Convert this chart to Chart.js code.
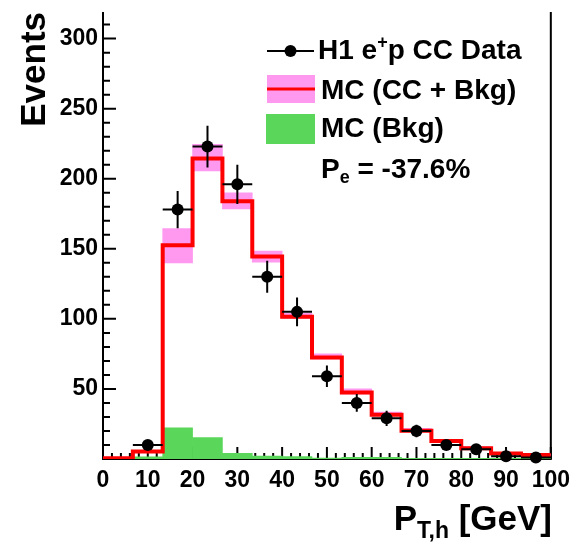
<!DOCTYPE html>
<html lang="en">
<head>
<meta charset="UTF-8">
<title>H1 e+p CC - P_T,h</title>
<script src="https://cdn.jsdelivr.net/npm/chart.js@4"></script>
<style>
  body { margin: 0; background: #fff; }
  canvas { display: block; }
</style>
</head>
<body>
<canvas id="ptChart" width="578" height="548"></canvas>
<script>
// histogram binning in GeV (15 bins over 0..100)
const binEdges = [0, 6.667, 13.333, 20, 26.667, 33.333, 40, 46.667, 53.333, 60, 66.667, 73.333, 80, 86.667, 93.333, 100];

// MC prediction (CC + Bkg) per bin, with its uncertainty band
const mcTotal    = [0.5, 5.3, 152.5, 214.5, 184, 144.5, 101.5, 72.5, 47.5, 31.5, 20.2, 12.8, 7.6, 4.0, 2.9];
const mcBandLow  = [0.3, 4.6, 140, 205.5, 178.5, 140.5, 100.5, 71.5, 46.5, 30.8, 19.6, 12.3, 7.2, 3.6, 2.5];
const mcBandHigh = [0.7, 6.0, 164.5, 224.5, 190, 148.3, 104, 75, 50, 33.5, 21.8, 14, 8.6, 4.8, 3.5];

// MC background only
const mcBkg = [0.3, 1.5, 22.3, 15.2, 4.0, 2.1, 1.7, 0.6, 1.2, 1.2, 0.4, 0.4, 0.4, 0.4, 0.4];

// data, one entry per bin starting at the second bin
const dataCounts = [10, 178, 223, 196, 130, 105, 59, 40, 29, 20, 10, 7, 2, 1];
const dataErrors = [3.2, 13.3, 14.9, 14.0, 11.4, 10.2, 7.7, 6.3, 5.4, 4.5, 3.2, 2.6, 1.4, 1.0];

const FONT = '"Liberation Sans", Arial, Helvetica, sans-serif';
const PINK = 'rgb(255,153,240)';
const GREEN = 'rgb(90,214,90)';
const RED = 'rgb(255,0,0)';

const centres = binEdges.slice(0, -1).map((e, i) => (e + binEdges[i + 1]) / 2);

const bandData = centres.map((c, i) => ({ x: c, y: [mcBandLow[i], mcBandHigh[i]] }));
const bkgData = centres.map((c, i) => ({ x: c, y: mcBkg[i] }));
// step outline: each bin value held from its low edge up to the next edge
const mcLine = binEdges.map((e, i) => ({ x: e, y: mcTotal[Math.min(i, mcTotal.length - 1)] }));
const dataPts = dataCounts.map((v, i) => ({ x: centres[i + 1], y: v, err: dataErrors[i] }));

// draws a run of text pieces, each with its own size and vertical shift
function richText(ctx, x, y, parts) {
  let cx = x;
  parts.forEach(p => {
    ctx.font = 'bold ' + p.size + 'px ' + FONT;
    ctx.fillText(p.t, cx, y + (p.dy || 0));
    cx += ctx.measureText(p.t).width;
  });
  return cx - x;
}
function richWidth(ctx, parts) {
  let w = 0;
  parts.forEach(p => {
    ctx.font = 'bold ' + p.size + 'px ' + FONT;
    w += ctx.measureText(p.t).width;
  });
  return w;
}

const framePlugin = {
  id: 'frame',
  beforeDatasetsDraw(chart) {
    const { ctx, chartArea: a, scales: { x, y } } = chart;
    ctx.save();
    ctx.strokeStyle = '#000';
    ctx.lineWidth = 2;
    ctx.beginPath();
    ctx.moveTo(a.left, a.top); ctx.lineTo(a.left, a.bottom); ctx.lineTo(a.right, a.bottom); ctx.lineTo(a.right, a.top);
    ctx.stroke();
    ctx.beginPath();
    for (let v = 0; v <= 310; v += 10) {
      const py = y.getPixelForValue(v);
      ctx.moveTo(a.left, py); ctx.lineTo(a.left + (v % 50 === 0 ? 13 : 7), py);
    }
    for (let v = 0; v <= 100; v += 2) {
      const px = x.getPixelForValue(v);
      ctx.moveTo(px, a.bottom); ctx.lineTo(px, a.bottom - (v % 10 === 0 ? 12 : 6));
    }
    ctx.stroke();
    ctx.restore();
  },
  beforeDatasetDraw(chart, args) {
    if (args.index !== 0) return;
    const { ctx, scales: { x, y } } = chart;
    ctx.save();
    ctx.strokeStyle = '#000';
    ctx.lineWidth = 2;
    ctx.beginPath();
    dataPts.forEach((p, i) => {
      const lo = x.getPixelForValue(binEdges[i + 1]);
      const hi = x.getPixelForValue(binEdges[i + 2]);
      const py = y.getPixelForValue(p.y);
      const px = x.getPixelForValue(p.x);
      ctx.moveTo(lo, py); ctx.lineTo(hi, py);
      ctx.moveTo(px, y.getPixelForValue(p.y - p.err)); ctx.lineTo(px, y.getPixelForValue(p.y + p.err));
    });
    ctx.stroke();
    ctx.restore();
  },
  afterDraw(chart) {
    const { ctx } = chart;
    ctx.save();
    ctx.fillStyle = '#000';
    ctx.textBaseline = 'alphabetic';

    // legend symbols
    ctx.strokeStyle = '#000';
    ctx.lineWidth = 2;
    ctx.beginPath(); ctx.moveTo(267, 51); ctx.lineTo(314, 51); ctx.stroke();
    ctx.beginPath(); ctx.arc(290.5, 51, 6, 0, Math.PI * 2); ctx.fill();
    ctx.fillStyle = PINK; ctx.fillRect(267, 75, 48, 28);
    ctx.fillStyle = RED; ctx.fillRect(267, 87.5, 48, 3);
    ctx.fillStyle = GREEN; ctx.fillRect(266, 114, 49, 30);

    // legend text
    ctx.fillStyle = '#000';
    const ls = 28;
    richText(ctx, 318, 59, [{ t: 'H1 e', size: ls }, { t: '+', size: 18, dy: -11 }, { t: 'p CC Data', size: ls }]);
    richText(ctx, 321, 99, [{ t: 'MC (CC + Bkg)', size: ls }]);
    richText(ctx, 321, 137, [{ t: 'MC (Bkg)', size: ls }]);
    richText(ctx, 321, 178, [{ t: 'P', size: ls }, { t: 'e', size: 18, dy: 5 }, { t: ' = -37.6%', size: ls }]);

    // x axis title, right aligned to the frame
    const xt = [{ t: 'P', size: 35 }, { t: 'T,h', size: 23, dy: 8 }, { t: ' [GeV]', size: 35 }];
    richText(ctx, 552 - richWidth(ctx, xt), 530, xt);

    // y axis title
    ctx.translate(45, 12);
    ctx.rotate(-Math.PI / 2);
    ctx.textAlign = 'right';
    ctx.font = 'bold 35px ' + FONT;
    ctx.fillText('Events', 0, 0);
    ctx.restore();
  }
};

const tickFont = { family: FONT, size: 23, weight: 'bold' };

new Chart(document.getElementById('ptChart'), {
  type: 'bar',
  data: {
    datasets: [
      {
        type: 'line', data: dataPts, showLine: false, order: 0, clip: false,
        pointRadius: 6, pointHoverRadius: 6, pointBackgroundColor: '#000', pointBorderColor: '#000', pointBorderWidth: 0
      },
      {
        type: 'line', data: mcLine, stepped: 'before', order: 1,
        borderColor: RED, borderWidth: 4, pointRadius: 0, fill: false
      },
      {
        data: bkgData, order: 2, grouped: false, backgroundColor: GREEN, borderWidth: 0,
        barPercentage: 1, categoryPercentage: 1
      },
      {
        data: bandData, order: 3, grouped: false, backgroundColor: PINK, borderWidth: 0,
        barPercentage: 1, categoryPercentage: 1
      }
    ]
  },
  options: {
    responsive: false,
    animation: false,
    devicePixelRatio: 1,
    layout: { padding: { top: 12, right: 25, left: 0, bottom: 0 } },
    plugins: { legend: { display: false }, tooltip: { enabled: false } },
    scales: {
      x: {
        type: 'linear', min: 0, max: 100, offset: false,
        grid: { display: false, drawTicks: false }, border: { display: false },
        ticks: { stepSize: 10, padding: 8, color: '#000', font: tickFont, maxRotation: 0, autoSkip: false },
        afterFit: s => { s.height = 89; }
      },
      y: {
        min: 0, max: 319,
        grid: { display: false, drawTicks: false }, border: { display: false },
        ticks: {
          stepSize: 50, includeBounds: false, padding: 5, color: '#000', font: tickFont,
          callback: v => (v === 0 ? '' : v)
        },
        afterFit: s => { s.width = 103; s.paddingTop = 0; s.paddingBottom = 0; }
      }
    }
  },
  plugins: [framePlugin]
});
</script>
</body>
</html>
